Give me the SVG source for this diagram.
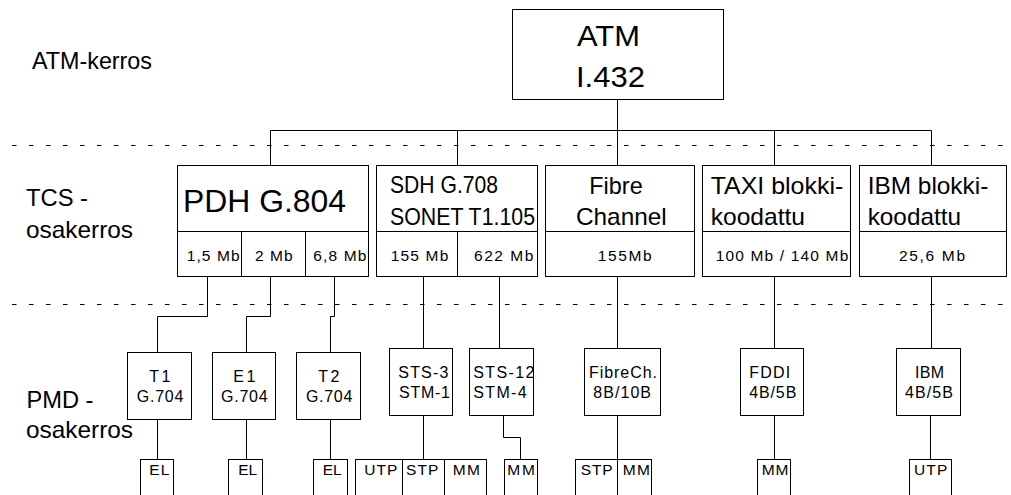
<svg xmlns="http://www.w3.org/2000/svg" width="1011" height="495" viewBox="0 0 1011 495">
<style>
 .bx{fill:#fff;stroke:#000;stroke-width:1}
 .ln{fill:none;stroke:#000;stroke-width:1}
 .dash{fill:none;stroke:#000;stroke-width:1;stroke-dasharray:4.5 12.5}
 text{font-family:"Liberation Sans",Arial,Helvetica,sans-serif;fill:#000}
 .t24{font-size:24px}
 .t29{font-size:29px}
 .t32{font-size:32px}
 .t15{font-size:16px}
 .t14{font-size:15.5px}
 .mid{text-anchor:middle;letter-spacing:2.5px}
</style>
<rect x="0" y="0" width="1011" height="495" fill="#fff"/>

<g id="layer-lines">
 <line class="dash" x1="12" y1="145.5" x2="1011" y2="145.5"/>
 <line class="dash" x1="12" y1="304.5" x2="1011" y2="304.5"/>
</g>

<g id="layer-labels">
 <text class="t24" x="32" y="69" textLength="120" lengthAdjust="spacingAndGlyphs">ATM-kerros</text>
 <text class="t24" x="26" y="206" textLength="62" lengthAdjust="spacingAndGlyphs">TCS -</text>
 <text class="t24" x="26" y="238" textLength="107" lengthAdjust="spacingAndGlyphs">osakerros</text>
 <text class="t24" x="26.5" y="408" textLength="67" lengthAdjust="spacingAndGlyphs">PMD -</text>
 <text class="t24" x="26" y="438" textLength="107" lengthAdjust="spacingAndGlyphs">osakerros</text>
</g>

<g id="connectors">
 <path class="ln" d="M617.5 99.5V130.5M270.5 130.5H931.5M270.5 130.5V165.5M457.5 130.5V165.5M617.5 130.5V165.5M774.5 130.5V165.5M931.5 130.5V165.5"/>
 <path class="ln" d="M207.5 276.5V316.5H157.5V352.5M270.5 276.5V316.5H246.5V352.5M334.5 276.5V316.5H330.5V352.5M423.5 276.5V348.5M499.5 276.5V348.5M617.5 276.5V348.5M774.5 276.5V348.5M931.5 276.5V348.5"/>
 <path class="ln" d="M157.5 419.5V459.5M246.5 419.5V459.5M330.5 419.5V459.5M423.5 415.5V459.5M503.5 415.5V437.5H520.5V459.5M774.5 415.5V459.5M930.5 415.5V459.5"/>
</g>

<g id="atm">
 <rect class="bx" x="512.5" y="9.5" width="211" height="90"/>
 <text class="t29" x="577" y="46" textLength="63" lengthAdjust="spacingAndGlyphs">ATM</text>
 <text class="t29" x="576" y="87" textLength="69" lengthAdjust="spacingAndGlyphs">I.432</text>
</g>

<g id="pdh">
 <rect class="bx" x="177.5" y="165.5" width="191" height="111"/>
 <path class="ln" d="M177.5 231.5H368.5M241.5 231.5V276.5M305.5 231.5V276.5"/>
 <text class="t32" x="183" y="212" textLength="163" lengthAdjust="spacingAndGlyphs">PDH G.804</text>
 <text class="t14" x="186.7" y="261" textLength="53" lengthAdjust="spacing">1,5 Mb</text>
 <text class="t14" x="255" y="261" textLength="37.7" lengthAdjust="spacing">2 Mb</text>
 <text class="t14" x="313.3" y="261" textLength="53" lengthAdjust="spacing">6,8 Mb</text>
</g>

<g id="sdh">
 <rect class="bx" x="376.5" y="165.5" width="161" height="111"/>
 <path class="ln" d="M376.5 231.5H537.5M457.5 231.5V276.5"/>
 <text class="t24" x="390" y="193" textLength="108" lengthAdjust="spacingAndGlyphs">SDH G.708</text>
 <text class="t24" x="390" y="225" textLength="145" lengthAdjust="spacingAndGlyphs">SONET T1.105</text>
 <text class="t14" x="390.7" y="261" textLength="57.6" lengthAdjust="spacing">155 Mb</text>
 <text class="t14" x="474" y="261" textLength="59.3" lengthAdjust="spacing">622 Mb</text>
</g>

<g id="fibre">
 <rect class="bx" x="545.5" y="165.5" width="149" height="111"/>
 <path class="ln" d="M545.5 231.5H694.5"/>
 <text class="t24" x="589.3" y="194" textLength="53.4" lengthAdjust="spacingAndGlyphs">Fibre</text>
 <text class="t24" x="576" y="225" textLength="90.7" lengthAdjust="spacingAndGlyphs">Channel</text>
 <text class="t14" x="597.7" y="260.5" textLength="54" lengthAdjust="spacing">155Mb</text>
</g>

<g id="taxi">
 <rect class="bx" x="702.5" y="165.5" width="148" height="111"/>
 <path class="ln" d="M702.5 231.5H850.5"/>
 <text class="t24" x="710.7" y="194" textLength="132.6" lengthAdjust="spacingAndGlyphs">TAXI blokki-</text>
 <text class="t24" x="710.7" y="225" textLength="94.3" lengthAdjust="spacingAndGlyphs">koodattu</text>
 <text class="t14" x="715.7" y="260.5" textLength="132.6" lengthAdjust="spacing">100 Mb / 140 Mb</text>
</g>

<g id="ibm">
 <rect class="bx" x="859.5" y="165.5" width="147" height="111"/>
 <path class="ln" d="M859.5 231.5H1006.5"/>
 <text class="t24" x="867.7" y="194" textLength="120.6" lengthAdjust="spacingAndGlyphs">IBM blokki-</text>
 <text class="t24" x="867.7" y="225" textLength="93.3" lengthAdjust="spacingAndGlyphs">koodattu</text>
 <text class="t14" x="899" y="260.5" textLength="66" lengthAdjust="spacing">25,6 Mb</text>
</g>

<g id="t1">
 <rect class="bx" x="127.5" y="352.5" width="64" height="67"/>
 <text class="t15 mid" x="161" y="382">T1</text>
 <text class="t15" x="136.7" y="402" textLength="46.7" lengthAdjust="spacing">G.704</text>
</g>
<g id="e1">
 <rect class="bx" x="212.5" y="352.5" width="63" height="67"/>
 <text class="t15 mid" x="245.5" y="382">E1</text>
 <text class="t15" x="221" y="402" textLength="46.7" lengthAdjust="spacing">G.704</text>
</g>
<g id="t2">
 <rect class="bx" x="296.5" y="352.5" width="64" height="67"/>
 <text class="t15 mid" x="330" y="382">T2</text>
 <text class="t15" x="306" y="402" textLength="46.3" lengthAdjust="spacing">G.704</text>
</g>
<g id="sts3">
 <rect class="bx" x="389.5" y="348.5" width="63" height="67"/>
 <text class="t15" x="398.3" y="377.5" textLength="50" lengthAdjust="spacing">STS-3</text>
 <text class="t15" x="399" y="398" textLength="51" lengthAdjust="spacing">STM-1</text>
</g>
<g id="sts12">
 <rect class="bx" x="469.5" y="348.5" width="64" height="67"/>
 <text class="t15" x="473.3" y="377.5" textLength="61" lengthAdjust="spacing">STS-12</text>
 <text class="t15" x="473.3" y="398" textLength="53.4" lengthAdjust="spacing">STM-4</text>
</g>
<g id="fibrech">
 <rect class="bx" x="584.5" y="348.5" width="76" height="67"/>
 <text class="t15" x="589" y="377.5" textLength="68" lengthAdjust="spacing">FibreCh.</text>
 <text class="t15" x="593.3" y="398" textLength="57.7" lengthAdjust="spacing">8B/10B</text>
</g>
<g id="fddi">
 <rect class="bx" x="740.5" y="348.5" width="63" height="67"/>
 <text class="t15" x="749.3" y="377.5" textLength="41" lengthAdjust="spacing">FDDI</text>
 <text class="t15" x="749.3" y="398" textLength="47" lengthAdjust="spacing">4B/5B</text>
</g>
<g id="ibm-pmd">
 <rect class="bx" x="896.5" y="348.5" width="64" height="67"/>
 <text class="t15" x="915" y="377.5" textLength="29" lengthAdjust="spacing">IBM</text>
 <text class="t15" x="905" y="398" textLength="48" lengthAdjust="spacing">4B/5B</text>
</g>

<g id="el-t1">
 <rect class="bx" x="140.5" y="459.5" width="33" height="45"/>
 <text class="t14" x="149.3" y="475" textLength="20" lengthAdjust="spacing">EL</text>
</g>
<g id="el-e1">
 <rect class="bx" x="228.5" y="459.5" width="34" height="45"/>
 <text class="t14" x="238.3" y="475" textLength="18.8" lengthAdjust="spacing">EL</text>
</g>
<g id="el-t2">
 <rect class="bx" x="313.5" y="459.5" width="34" height="45"/>
 <text class="t14" x="322.7" y="475" textLength="19" lengthAdjust="spacing">EL</text>
</g>
<g id="media-sts3">
 <rect class="bx" x="355.5" y="459.5" width="131" height="45"/>
 <path class="ln" d="M402.5 459.5V495M444.5 459.5V495"/>
 <text class="t14" x="364.3" y="475" textLength="33" lengthAdjust="spacing">UTP</text>
 <text class="t14" x="406" y="475" textLength="32.3" lengthAdjust="spacing">STP</text>
 <text class="t14" x="452.7" y="475" textLength="27.3" lengthAdjust="spacing">MM</text>
</g>
<g id="media-sts12">
 <rect class="bx" x="504.5" y="459.5" width="33" height="45"/>
 <text class="t14" x="507.3" y="475" textLength="27.7" lengthAdjust="spacing">MM</text>
</g>
<g id="media-fibrech">
 <rect class="bx" x="575.5" y="459.5" width="76" height="45"/>
 <path class="ln" d="M617.5 415.5V495"/>
 <text class="t14" x="580.7" y="475" textLength="32" lengthAdjust="spacing">STP</text>
 <text class="t14" x="622.7" y="475" textLength="27.3" lengthAdjust="spacing">MM</text>
</g>
<g id="media-fddi">
 <rect class="bx" x="757.5" y="459.5" width="33" height="45"/>
 <text class="t14" x="761.7" y="475" textLength="26.6" lengthAdjust="spacing">MM</text>
</g>
<g id="media-ibm">
 <rect class="bx" x="909.5" y="459.5" width="42" height="45"/>
 <text class="t14" x="914" y="475" textLength="33.3" lengthAdjust="spacing">UTP</text>
</g>
</svg>
